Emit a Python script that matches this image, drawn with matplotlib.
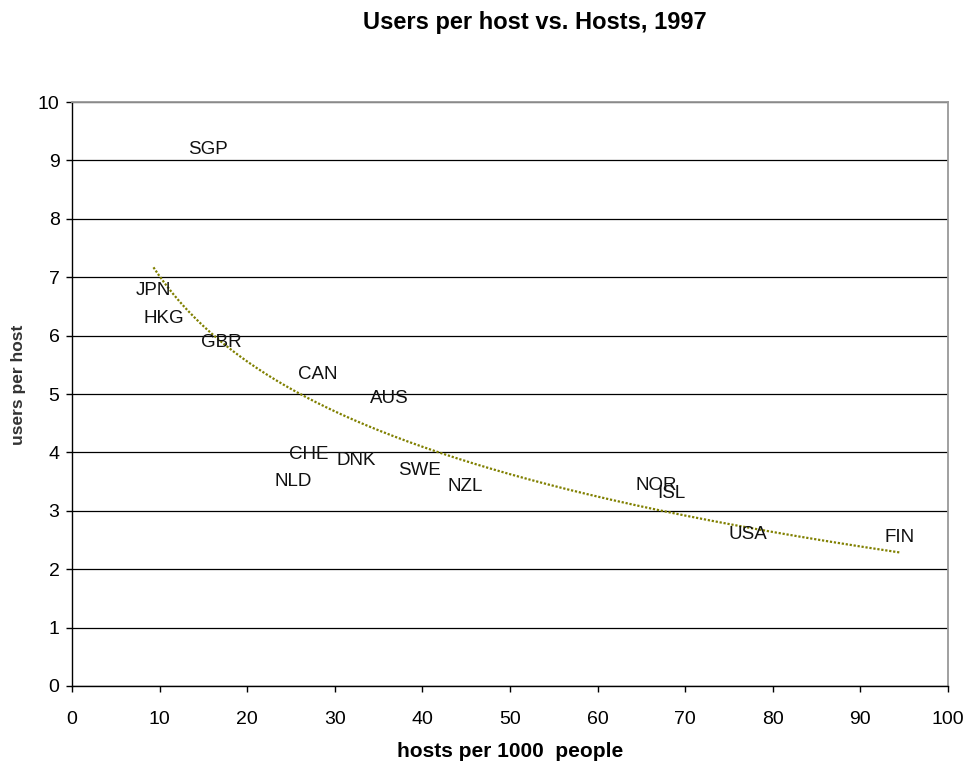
import numpy as np
import matplotlib
matplotlib.use("Agg")
import matplotlib.pyplot as plt

plt.rcParams["font.family"] = ["Liberation Sans", "DejaVu Sans"]

countries = ["SGP", "JPN", "HKG", "GBR", "CAN", "AUS", "CHE", "DNK",
             "NLD", "SWE", "NZL", "NOR", "ISL", "USA", "FIN"]
hosts = [15.5, 9.3, 10.5, 17.0, 28.1, 36.2, 27.0, 32.4,
         25.2, 39.7, 44.9, 66.7, 68.4, 77.2, 94.5]
users_per_host = [9.18, 6.77, 6.29, 5.89, 5.33, 4.93, 3.96, 3.86,
                  3.51, 3.69, 3.42, 3.43, 3.30, 2.60, 2.55]

x = np.array(hosts)
y = np.array(users_per_host)

fig = plt.figure(figsize=(9.71, 7.63), dpi=100)
ax = fig.add_axes([72 / 971, 1 - 686 / 763, (948 - 72) / 971, (686 - 102) / 763])

# labels act as the markers
for name, xi, yi in zip(countries, x, y):
    ax.text(xi, yi, name, ha="center", va="center", fontsize=13.5, color="#111111")

# logarithmic trendline (Excel style)
b, a = np.polyfit(np.log(x), y, 1)
xs = np.linspace(x.min(), x.max(), 300)
ax.plot(xs, a + b * np.log(xs), color="#808000", lw=1.6, linestyle=(0, (1, 0.8)))

ax.set_xlim(0, 100)
ax.set_ylim(0, 10)
ax.set_xticks(range(0, 101, 10))
ax.set_yticks(range(0, 11))
ax.tick_params(direction="out", length=4, width=1, labelsize=14, pad=5)
ax.tick_params(axis="x", pad=14)
ax.grid(axis="y", color="black", lw=0.9)
ax.set_axisbelow(True)
for s in ["top", "right"]:
    ax.spines[s].set_color("#999999")
    ax.spines[s].set_linewidth(1.3)
ax.spines["left"].set_linewidth(1.0)
ax.spines["bottom"].set_linewidth(1.0)

ax.set_xlabel("hosts per 1000  people", fontsize=15, fontweight="bold", labelpad=10)
fig.text(19 / 971, 1 - 385 / 763, "users per host", rotation=90,
         ha="center", va="center", fontsize=12.5, fontweight="bold", color="#333333")
fig.text(535 / 971, 1 - 22 / 763, "Users per host vs. Hosts, 1997",
         ha="center", va="center", fontsize=17, fontweight="bold")

fig.savefig("out.png", dpi=100)
